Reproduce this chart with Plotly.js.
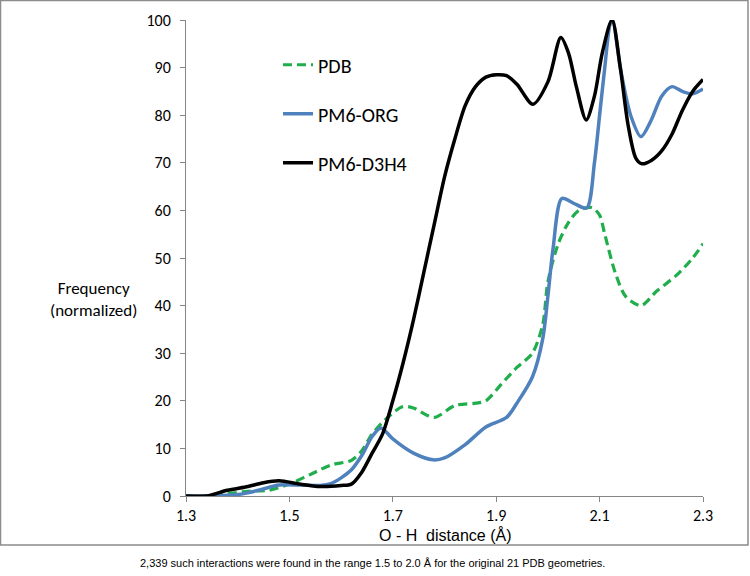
<!DOCTYPE html>
<html>
<head>
<meta charset="utf-8">
<script src="https://cdn.plot.ly/plotly-3.0.1.min.js"></script>
<style>html,body{margin:0;padding:0;background:#fff;}#chart{width:750px;height:576px;}</style>
</head>
<body>
<div id="chart"></div>
<script>
// O-H distance (Å) and normalized frequency
const pdbX = [1.30,1.34,1.38,1.42,1.46,1.50,1.54,1.58,1.62,1.64,1.66,1.69,1.72,1.74,1.78,1.82,1.86,1.88,1.91,1.94,1.97,1.99,2.00,2.02,2.04,2.06,2.085,2.10,2.11,2.13,2.15,2.18,2.21,2.25,2.28,2.30];
const pdbY = [0,0,0.5,1.0,1.2,2.5,4.5,6.5,7.5,9.5,13,16.5,18.8,18.5,16.5,19,19.5,20,23.5,27,30,36,45,53,57.5,60,60.6,59,55,47,42,40,43,46.5,50,53];

const orgX = [1.30,1.34,1.40,1.44,1.48,1.52,1.56,1.58,1.60,1.62,1.64,1.66,1.677,1.70,1.74,1.778,1.80,1.84,1.88,1.92,1.94,1.97,1.99,2.00,2.01,2.027,2.05,2.075,2.09,2.10,2.11,2.12,2.125,2.14,2.16,2.18,2.20,2.22,2.24,2.26,2.28,2.30];
const orgY = [0,0,0.3,1.2,2.3,2.3,2.2,2.6,3.8,5.5,8.5,12.5,14.3,12,9,7.6,8,10.8,14.5,16.5,19.5,25,33,42,52,62.5,61.5,60.5,70,80,90,99,100,90,80,75.5,79,84,86,85,84.5,85.5];

const d3hX = [1.30,1.34,1.38,1.42,1.45,1.48,1.52,1.56,1.60,1.62,1.64,1.66,1.68,1.70,1.72,1.74,1.76,1.78,1.80,1.82,1.84,1.86,1.88,1.90,1.92,1.94,1.971,2.00,2.025,2.04,2.055,2.074,2.09,2.105,2.124,2.14,2.155,2.17,2.182,2.20,2.22,2.24,2.26,2.28,2.30];
const d3hY = [0,0,1.2,2,2.8,3.2,2.5,2,2.2,2.5,5,9,13,20,28,37,47,57,67,75,82,86,88,88.5,88.3,86.5,82.3,87,96.3,93,86,79,84,93,100,90,78,71,69.8,70.5,72.5,76,81,85,87.5];

const xTicks = [1.3,1.5,1.7,1.9,2.1,2.3];
const yTicks = [0,10,20,30,40,50,60,70,80,90,100];
const seriesNames = ['PDB','PM6-ORG','PM6-D3H4'];
const xTitle = 'O - H  distance (Å)';
const yTitle = 'Frequency<br>(normalized)';
const caption = '2,339 such interactions were found in the range 1.5 to 2.0 Å for the original 21 PDB geometries.';

const traces = [
  {x: pdbX, y: pdbY, name: seriesNames[0], legendgroup: 'a', mode: 'lines',
   line: {color: '#1fae4b', width: 3.2, dash: '9px,5px', shape: 'spline', smoothing: 0.8}},
  {x: orgX, y: orgY, name: seriesNames[1], legendgroup: 'b', mode: 'lines',
   line: {color: '#4f81bd', width: 3.5, shape: 'spline', smoothing: 0.8}},
  {x: d3hX, y: d3hY, name: seriesNames[2], legendgroup: 'c', mode: 'lines',
   line: {color: '#000000', width: 3.5, shape: 'spline', smoothing: 0.8}}
];

const axisFont = {family: 'Liberation Sans Narrow, Carlito, Arial Narrow, sans-serif', size: 16, color: '#000'};

const layout = {
  width: 750, height: 576,
  margin: {l: 186, r: 47, t: 20, b: 80},
  paper_bgcolor: '#fff', plot_bgcolor: '#fff',
  showlegend: true,
  legend: {x: 0.178, y: 0.947, xanchor: 'left', yanchor: 'top',
           traceorder: 'grouped', tracegroupgap: 20,
           font: {family: 'Carlito, Liberation Sans Narrow, sans-serif', size: 20, color: '#000'},
           bgcolor: 'rgba(0,0,0,0)'},
  xaxis: {range: [1.3, 2.3], tickvals: xTicks, ticktext: xTicks.map(v => v.toFixed(1)),
          showgrid: false, zeroline: false, showline: true, linecolor: '#868686', linewidth: 1,
          ticks: 'outside', ticklen: 5, tickcolor: '#868686', tickfont: axisFont,
          automargin: false},
  yaxis: {range: [0, 100], tickvals: yTicks, showgrid: false, zeroline: false,
          showline: true, linecolor: '#868686', linewidth: 1,
          ticks: 'outside', ticklen: 5, tickcolor: '#868686', tickfont: axisFont,
          ticklabelstandoff: 6, automargin: false},
  annotations: [
    {text: yTitle, xref: 'paper', yref: 'paper', x: -0.178, y: 0.412,
     xanchor: 'center', yanchor: 'middle', showarrow: false, align: 'center',
     font: {family: 'Liberation Sans Narrow, Carlito, sans-serif', size: 17, color: '#000'}},
    {text: xTitle, xref: 'paper', yref: 'paper', x: 0.5, y: (496-535)/476,
     xanchor: 'center', yanchor: 'middle', showarrow: false,
     font: {family: 'Liberation Sans, Arial, sans-serif', size: 16, color: '#000'}},
    {text: caption, xref: 'paper', yref: 'paper', x: (372-186)/517, y: (496-563)/476,
     xanchor: 'center', yanchor: 'middle', showarrow: false,
     font: {family: 'Liberation Sans, Arial, sans-serif', size: 11, color: '#000'}}
  ],
  shapes: [
    {type: 'rect', xref: 'paper', yref: 'paper', x0: (0.5-186)/517, x1: (748-186)/517,
     y0: (496-545)/476, y1: (496-0.5)/476, line: {color: '#8c8c8c', width: 1.5}, fillcolor: 'rgba(0,0,0,0)'}
  ]
};

Plotly.newPlot('chart', traces, layout, {displayModeBar: false, staticPlot: true});
</script>
</body>
</html>
